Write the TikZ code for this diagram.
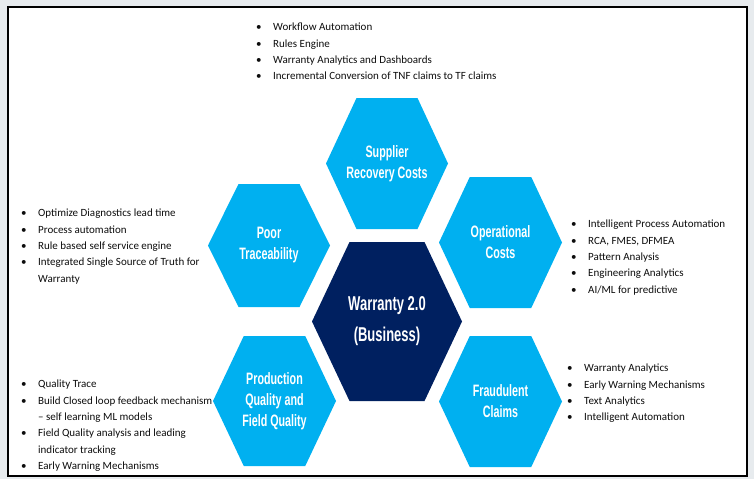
\documentclass[tikz,border=0pt]{standalone}
\usepackage{fontspec}
\setmainfont{Carlito}
\newfontfamily\hexfont[FakeStretch=0.65]{Liberation Sans}

\definecolor{cellblue}{HTML}{00B0F0}
\definecolor{corenavy}{HTML}{002060}
\definecolor{pagegray}{HTML}{E7EBEE}

% flat-topped hexagon around the origin: half width, half height
\newcommand{\hexpath}[2]{(-#1,0) -- (-#1/2,-#2) -- (#1/2,-#2) -- (#1,0) -- (#1/2,#2) -- (-#1/2,#2) -- cycle}
\newcommand{\bul}{\makebox[17pt][l]{•}}
\newcommand{\cont}{\hspace*{17pt}}

\begin{document}
\begin{tikzpicture}[x=1pt,y=-1pt,
	celltext/.style={
		text=white,
		align=center,
		font=\hexfont\bfseries\fontsize{16.5}{21}\selectfont
	},
	bullets/.style={
		anchor=north west,
		inner sep=0pt,
		align=left,
		text=black!95,
		font=\fontsize{11}{16.3}\selectfont
	}]

	\useasboundingbox (0,0) rectangle (754,479);
	\fill[pagegray] (0,0) rectangle (754,479);
	\filldraw[fill=white,draw=black,line width=2.2pt] (8,7) rectangle (747,476);

	% the six cells
	\fill[cellblue,shift={(387,163.5)}] \hexpath{61}{65.5};
	\fill[cellblue,shift={(269,245.5)}] \hexpath{61}{61.5};
	\fill[cellblue,shift={(500.5,242.5)}] \hexpath{61.5}{65.5};
	\fill[corenavy,shift={(387,321.5)}] \hexpath{75}{79.5};
	\fill[cellblue,shift={(274.5,401)}] \hexpath{61.5}{65};
	\fill[cellblue,shift={(500.5,401.5)}] \hexpath{61.5}{65.5};

	\node[celltext] (supplier) at (387,163.5) {Supplier\\Recovery Costs};
	\node[celltext] (trace) at (269,245.5) {Poor\\Traceability};
	\node[celltext] (opcost) at (500.5,242.5) {Operational\\Costs};
	\node[celltext,font=\hexfont\bfseries\fontsize{20}{31}\selectfont] (core) at (387,321.5) {Warranty 2.0\\(Business)};
	\node[celltext] (quality) at (274.5,401) {Production\\Quality and\\Field Quality};
	\node[celltext] (fraud) at (500.5,401.5) {Fraudulent\\Claims};

	% bullet lists
	\node[bullets] (supplierlist) at (256,23) {\bul Workflow Automation\\ \bul Rules Engine\\ \bul Warranty Analytics and Dashboards\\ \bul Incremental Conversion of TNF claims to TF claims};
	\node[bullets] (tracelist) at (21,209) {\bul Optimize Diagnostics lead time\\ \bul Process automation\\ \bul Rule based self service engine\\ \bul Integrated Single Source of Truth for\\ \cont Warranty};
	\node[bullets] (opcostlist) at (571,220) {\bul Intelligent Process Automation\\ \bul RCA, FMES, DFMEA\\ \bul Pattern Analysis\\ \bul Engineering Analytics\\ \bul AI/ML for predictive};
	\node[bullets] (qualitylist) at (21,380) {\bul Quality Trace\\ \bul Build Closed loop feedback mechanism\\ \cont -- self learning ML models\\ \bul Field Quality analysis and leading\\ \cont indicator tracking\\ \bul Early Warning Mechanisms};
	\node[bullets] (fraudlist) at (567,364) {\bul Warranty Analytics\\ \bul Early Warning Mechanisms\\ \bul Text Analytics\\ \bul Intelligent Automation};
\end{tikzpicture}
\end{document}
